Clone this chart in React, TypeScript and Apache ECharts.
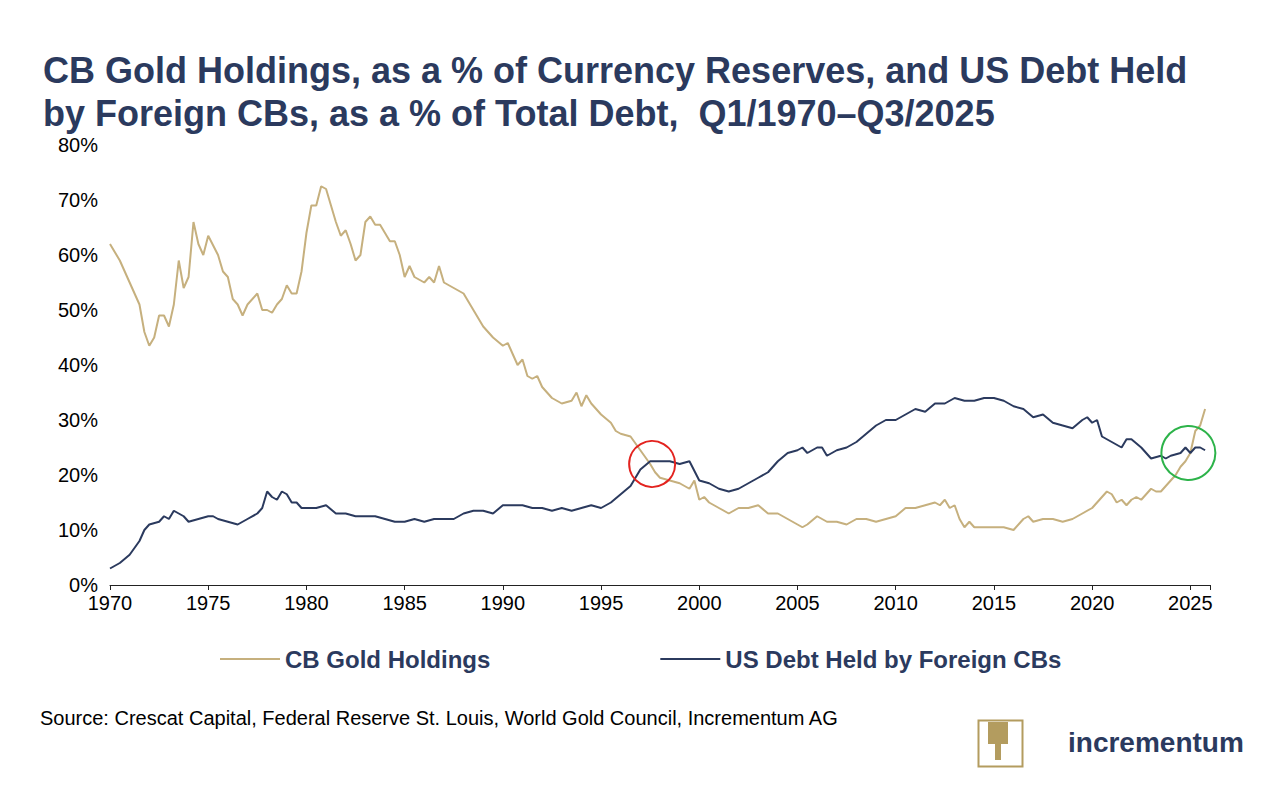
import React, { useEffect, useRef } from 'react';
import * as echarts from 'echarts';

const goldYears = [1970,1970.5,1971,1971.5,1971.75,1972,1972.25,1972.5,1972.75,1973,1973.25,1973.5,1973.75,1974,1974.25,1974.5,1974.75,1975,1975.5,1975.75,1976,1976.25,1976.5,1976.75,1977,1977.5,1977.75,1978,1978.25,1978.5,1978.75,1979,1979.25,1979.5,1979.75,1980,1980.25,1980.5,1980.75,1981,1981.25,1981.5,1981.75,1982,1982.25,1982.5,1982.75,1983,1983.25,1983.5,1983.75,1984,1984.25,1984.5,1984.75,1985,1985.25,1985.5,1985.75,1986,1986.25,1986.5,1986.75,1987,1987.5,1988,1988.5,1989,1989.5,1990,1990.25,1990.5,1990.75,1991,1991.25,1991.5,1991.75,1992,1992.5,1993,1993.5,1993.75,1994,1994.25,1994.5,1995,1995.5,1995.75,1996,1996.5,1997,1997.5,1997.75,1998,1998.5,1999,1999.5,1999.75,2000,2000.25,2000.5,2001,2001.5,2002,2002.5,2003,2003.5,2004,2004.5,2005,2005.25,2005.5,2006,2006.5,2007,2007.5,2008,2008.5,2009,2009.5,2010,2010.5,2011,2011.5,2012,2012.25,2012.5,2012.75,2013,2013.25,2013.5,2013.75,2014,2014.5,2015,2015.5,2016,2016.5,2016.75,2017,2017.5,2018,2018.5,2019,2019.5,2020,2020.5,2020.75,2021,2021.25,2021.5,2021.75,2022,2022.25,2022.5,2022.75,2023,2023.25,2023.5,2023.75,2024,2024.25,2024.5,2024.75,2025,2025.25,2025.5,2025.75];
const goldValues = [62,59,55,51,46,43.5,45,49,49,47,51,59,54,56,66,62,60,63.5,60,57,56,52,51,49,51,53,50,50,49.5,51,52,54.5,53,53,57,64,69,69,72.5,72,69,66,63.5,64.5,62,59,60,66,67,65.5,65.5,64,62.5,62.5,60,56,58,56,55.5,55,56,55,58,55,54,53,50,47,45,43.5,44,42,40,41,38,37.5,38,36,34,33,33.5,35,32.5,34.5,33,31,29.5,28,27.5,27,24.5,22,20.5,19.5,19,18.5,17.5,19,15.5,16,15,14,13,14,14,14.5,13,13,12,11,10.5,11,12.5,11.5,11.5,11,12,12,11.5,12,12.5,14,14,14.5,15,14.5,15.5,14,14.5,12,10.5,11.5,10.5,10.5,10.5,10.5,10,12,12.5,11.5,12,12,11.5,12,13,14,16,17,16.5,15,15.5,14.5,15.5,16,15.5,16.5,17.5,17,17,18,19,20,21.5,22.5,24,28,29,32];

const debtYears = [1970,1970.5,1971,1971.5,1971.75,1972,1972.5,1972.75,1973,1973.25,1973.5,1973.75,1974,1974.5,1975,1975.25,1975.5,1976,1976.5,1977,1977.5,1977.75,1978,1978.25,1978.5,1978.75,1979,1979.25,1979.5,1979.75,1980,1980.5,1981,1981.5,1982,1982.5,1983,1983.5,1984,1984.5,1985,1985.5,1986,1986.5,1987,1987.5,1988,1988.5,1989,1989.5,1990,1990.5,1991,1991.5,1992,1992.5,1993,1993.5,1994,1994.5,1995,1995.5,1996,1996.5,1997,1997.5,1998,1998.5,1999,1999.5,2000,2000.5,2001,2001.5,2002,2002.5,2003,2003.5,2004,2004.5,2005,2005.25,2005.5,2006,2006.25,2006.5,2007,2007.5,2008,2008.5,2009,2009.5,2010,2010.5,2011,2011.5,2012,2012.5,2013,2013.5,2014,2014.5,2015,2015.5,2016,2016.5,2017,2017.5,2018,2018.5,2019,2019.5,2019.75,2020,2020.25,2020.5,2021,2021.5,2021.75,2022,2022.5,2023,2023.5,2023.75,2024,2024.5,2024.75,2025,2025.25,2025.5,2025.75];
const debtValues = [3,4,5.5,8,10,11,11.5,12.5,12,13.5,13,12.5,11.5,12,12.5,12.5,12,11.5,11,12,13,14,17,16,15.5,17,16.5,15,15,14,14,14,14.5,13,13,12.5,12.5,12.5,12,11.5,11.5,12,11.5,12,12,12,13,13.5,13.5,13,14.5,14.5,14.5,14,14,13.5,14,13.5,14,14.5,14,15,16.5,18,21,22.5,22.5,22.5,22,22.5,19,18.5,17.5,17,17.5,18.5,19.5,20.5,22.5,24,24.5,25,24,25,25,23.5,24.5,25,26,27.5,29,30,30,31,32,31.5,33,33,34,33.5,33.5,34,34,33.5,32.5,32,30.5,31,29.5,29,28.5,30,30.5,29.5,30,27,26,25,26.5,26.5,25,23,23.5,23,23.5,24,25,24,25,25,24.5];

const highlights = [
  { coord: [1997.6, 22], color: '#E3231F', size: 46 },
  { coord: [2024.9, 24], color: '#2DB34A', size: 54 },
];

const NAVY = '#2B3A5E';
const GOLD = '#C6B07E';
const FONT = 'Liberation Sans';

export default function App() {
  const ref = useRef<HTMLDivElement>(null);
  useEffect(() => {
    if (!ref.current) return;
    const chart = echarts.init(ref.current, null, { renderer: 'svg' });
    chart.setOption({
      animation: false,
      textStyle: { fontFamily: FONT },
      title: {
        text: 'CB Gold Holdings, as a % of Currency Reserves, and US Debt Held\nby Foreign CBs, as a % of Total Debt,  Q1/1970–Q3/2025',
        left: 38, top: 44,
        textStyle: { color: NAVY, fontSize: 36, fontWeight: 'bold', lineHeight: 43, fontFamily: FONT },
      },
      grid: { left: 110, right: 72, top: 145, bottom: 209 },
      legend: {
        bottom: 118, left: 215, itemGap: 170, itemWidth: 60, itemHeight: 2,
        icon: 'rect',
        textStyle: { color: NAVY, fontSize: 24, fontWeight: 'bold', fontFamily: FONT },
      },
      xAxis: {
        type: 'value', min: 1970, max: 2026, interval: 5,
        splitLine: { show: false },
        axisLine: { lineStyle: { color: '#222' } },
        axisTick: { show: true, length: 5, lineStyle: { color: '#222' } },
        axisLabel: {
          color: '#000', fontSize: 20, margin: 8,
          formatter: (v: number) => (v % 5 === 0 ? String(v) : ''),
        },
      },
      yAxis: {
        type: 'value', min: 0, max: 80, interval: 10,
        splitLine: { show: false },
        axisLine: { show: false },
        axisTick: { show: false },
        axisLabel: { color: '#000', fontSize: 20, margin: 12, formatter: '{value}%' },
      },
      series: [
        {
          name: 'CB Gold Holdings', type: 'line', symbol: 'none',
          lineStyle: { color: GOLD, width: 2 }, itemStyle: { color: GOLD },
          data: goldYears.map((y, i) => [y, goldValues[i]]),
        },
        {
          name: 'US Debt Held by Foreign CBs', type: 'line', symbol: 'none',
          lineStyle: { color: NAVY, width: 2 }, itemStyle: { color: NAVY },
          data: debtYears.map((y, i) => [y, debtValues[i]]),
          markPoint: {
            symbol: 'circle', label: { show: false }, silent: true,
            data: highlights.map(h => ({
              coord: h.coord, symbolSize: h.size,
              itemStyle: { color: 'rgba(0,0,0,0)', borderColor: h.color, borderWidth: 2 },
            })),
          },
        },
      ],
      graphic: [
        {
          type: 'text', left: 40, top: 708,
          style: { text: 'Source: Crescat Capital, Federal Reserve St. Louis, World Gold Council, Incrementum AG', fontSize: 20, fill: '#000', fontFamily: FONT },
        },
        { type: 'rect', left: 976, top: 718, shape: { width: 44, height: 46 }, style: { fill: 'none', stroke: '#B39C5F', lineWidth: 2 } },
        { type: 'rect', left: 988, top: 722, shape: { width: 20, height: 22 }, style: { fill: '#B39C5F' } },
        { type: 'rect', left: 995, top: 740, shape: { width: 6, height: 20 }, style: { fill: '#B39C5F' } },
        {
          type: 'text', left: 1068, top: 728,
          style: { text: 'incrementum', fontSize: 28, fontWeight: 'bold', fill: NAVY, fontFamily: FONT },
        },
      ],
    });
    return () => { chart.dispose(); };
  }, []);
  return <div ref={ref} style={{ position: 'absolute', left: 0, top: 0, width: 1282, height: 794, background: '#fff' }} />;
}
